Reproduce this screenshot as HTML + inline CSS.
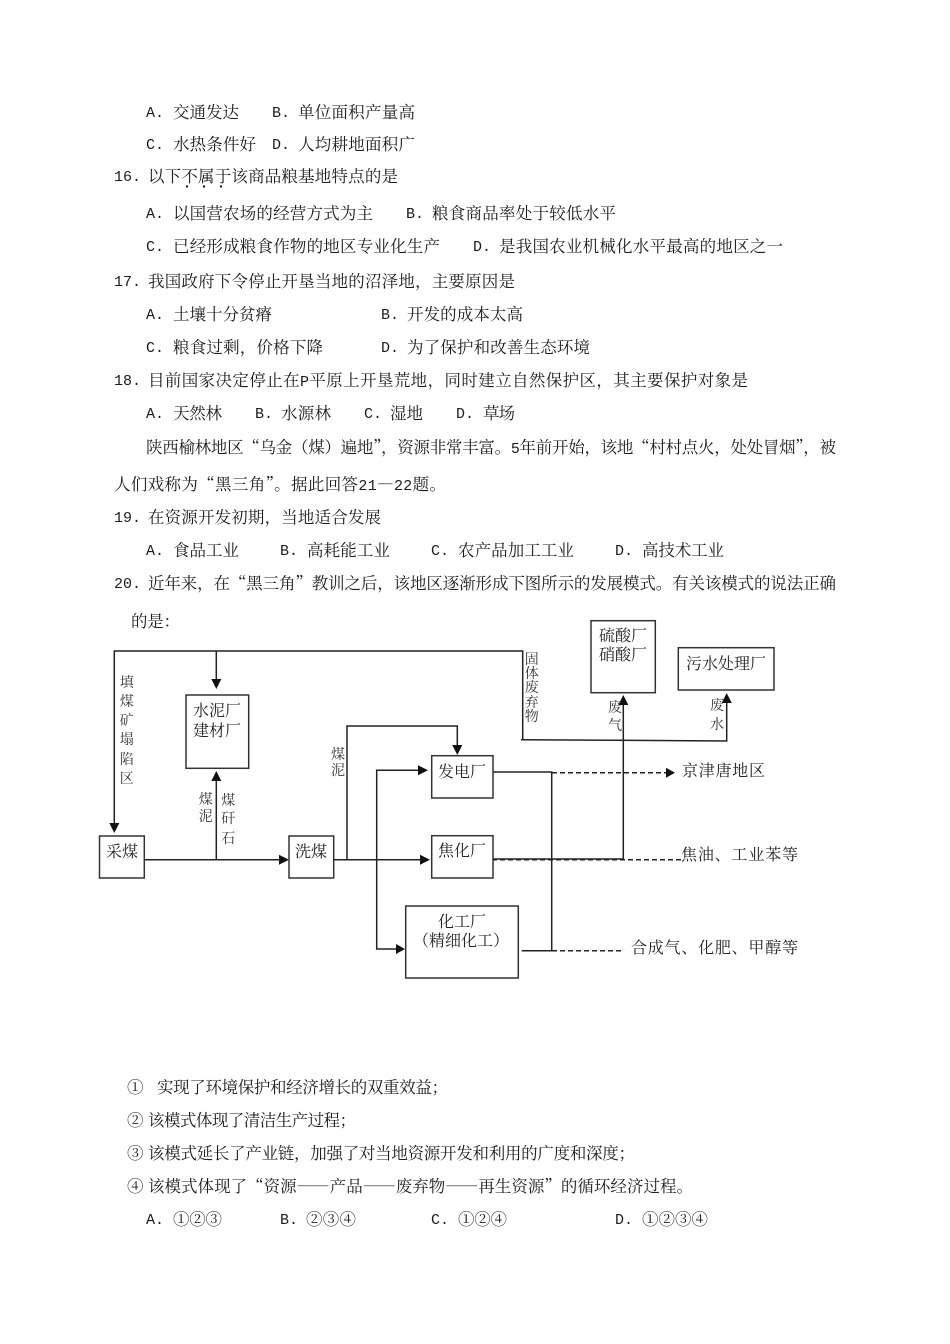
<!DOCTYPE html>
<html lang="zh-CN"><head><meta charset="utf-8"><style>
html,body{margin:0;padding:0;background:#fff;width:950px;height:1344px;overflow:hidden}
svg{display:block}
text{font-family:"Noto Serif CJK SC","Liberation Serif",serif;font-size:16.5px;fill:#1c1c1c}
.m{font-family:"Liberation Mono","Noto Serif CJK SC",monospace;font-size:15px}
.d text{font-size:16px;text-anchor:middle;fill:#222}
.d text.s{font-size:14px;fill:#333}
.d text.l{text-anchor:start}
.k{fill:none;stroke:#222;stroke-width:1.5}
.b{fill:#fff;stroke:#333;stroke-width:1.5}
.t{stroke-dasharray:5 3}
</style></head><body>
<svg width="950" height="1344" viewBox="0 0 950 1344" xmlns="http://www.w3.org/2000/svg">
<g>
<text class="m" x="146" y="117">A.</text><text x="173" y="118" textLength="66">交通发达</text><text class="m" x="272" y="117">B.</text><text x="298" y="118" textLength="117">单位面积产量高</text>
<text class="m" x="146" y="149">C.</text><text x="173" y="150" textLength="83">水热条件好</text><text class="m" x="272" y="149">D.</text><text x="298" y="150" textLength="117">人均耕地面积广</text>
<text class="m" x="114" y="181">16.</text><text x="148" y="182" textLength="250">以下不属于该商品粮基地特点的是</text>
<text class="m" x="146" y="218">A.</text><text x="173" y="219" textLength="200">以国营农场的经营方式为主</text><text class="m" x="406" y="218">B.</text><text x="432" y="219" textLength="184">粮食商品率处于较低水平</text>
<text class="m" x="146" y="251">C.</text><text x="173" y="252" textLength="267">已经形成粮食作物的地区专业化生产</text><text class="m" x="473" y="251">D.</text><text x="499" y="252" textLength="284">是我国农业机械化水平最高的地区之一</text>
<text class="m" x="114" y="286">17.</text><text x="148" y="287" textLength="367">我国政府下令停止开垦当地的沼泽地，主要原因是</text>
<text class="m" x="146" y="319">A.</text><text x="173" y="320" textLength="99">土壤十分贫瘠</text><text class="m" x="381" y="319">B.</text><text x="407" y="320" textLength="116">开发的成本太高</text>
<text class="m" x="146" y="352">C.</text><text x="173" y="353" textLength="150">粮食过剩，价格下降</text><text class="m" x="381" y="352">D.</text><text x="407" y="353" textLength="183">为了保护和改善生态环境</text>
<text class="m" x="114" y="385">18.</text><text x="148" y="386" textLength="600">目前国家决定停止在<tspan class="m">P</tspan>平原上开垦荒地，同时建立自然保护区，其主要保护对象是</text>
<text class="m" x="146" y="418">A.</text><text x="173" y="419" textLength="49">天然林</text><text class="m" x="255" y="418">B.</text><text x="281" y="419" textLength="50">水源林</text><text class="m" x="364" y="418">C.</text><text x="390" y="419" textLength="33">湿地</text><text class="m" x="456" y="418">D.</text><text x="483" y="419" textLength="32">草场</text>
<text x="146" y="453" textLength="690">陕西榆林地区“乌金（煤）遍地”，资源非常丰富。<tspan class="m">5</tspan>年前开始，该地“村村点火，处处冒烟”，被</text>
<text x="114" y="490" textLength="332">人们戏称为“黑三角”。据此回答<tspan class="m">21</tspan>—<tspan class="m">22</tspan>题。</text>
<text class="m" x="114" y="522">19.</text><text x="148" y="523" textLength="233">在资源开发初期，当地适合发展</text>
<text class="m" x="146" y="555">A.</text><text x="173" y="556" textLength="66">食品工业</text><text class="m" x="280" y="555">B.</text><text x="307" y="556" textLength="83">高耗能工业</text><text class="m" x="431" y="555">C.</text><text x="458" y="556" textLength="116">农产品加工工业</text><text class="m" x="615" y="555">D.</text><text x="642" y="556" textLength="82">高技术工业</text>
<text class="m" x="114" y="588">20.</text><text x="148" y="589" textLength="688">近年来，在“黑三角”教训之后，该地区逐渐形成下图所示的发展模式。有关该模式的说法正确</text>
<text x="131" y="627" textLength="49">的是：</text>
<text x="127" y="1093">①</text><text x="157" y="1093" textLength="291">实现了环境保护和经济增长的双重效益；</text>
<text x="127" y="1126">②</text><text x="148" y="1126" textLength="208">该模式体现了清洁生产过程；</text>
<text x="127" y="1159">③</text><text x="148" y="1159" textLength="487">该模式延长了产业链，加强了对当地资源开发和利用的广度和深度；</text>
<text x="127" y="1192">④</text><text x="148" y="1192" textLength="545">该模式体现了“资源——产品——废弃物——再生资源”的循环经济过程。</text>
<text class="m" x="146" y="1224">A.</text><text x="173" y="1225" textLength="49">①②③</text><text class="m" x="280" y="1224">B.</text><text x="306" y="1225" textLength="50">②③④</text><text class="m" x="431" y="1224">C.</text><text x="458" y="1225" textLength="49">①②④</text><text class="m" x="615" y="1224">D.</text><text x="642" y="1225" textLength="66">①②③④</text>
</g>
<circle cx="187" cy="186.5" r="1.2" fill="#222"/><circle cx="204" cy="186.5" r="1.2" fill="#222"/><circle cx="221" cy="186.5" r="1.2" fill="#222"/>

<g class="d">
<path class="k" d="M114.3 825V651H522.7V740"/>
<path class="k" d="M216.3 651V680"/>
<path class="k" d="M216.3 860V780"/>
<path class="k" d="M144 859.7H280"/>
<path class="k" d="M334 859.7H421"/>
<path class="k" d="M347 860V726H457.3V746"/>
<path class="k" d="M419 770.3H376.7V949H397"/>
<path class="k" d="M521 739.7L726.7 741V702"/>
<path class="k" d="M493 772H551.7V950.7H521.7"/>
<path class="k t" d="M552 772.7H666"/>
<path class="k" d="M491.7 859H623.3V704"/>
<path class="k t" d="M492 859.8H681"/>
<path class="k t" d="M552 950.7H624"/>
<g fill="#111">
<path d="M109.3 823H119.3L114.3 833Z"/>
<path d="M211.3 679H221.3L216.3 689Z"/>
<path d="M211.3 781H221.3L216.3 771Z"/>
<path d="M279 854.7V864.7L289 859.7Z"/>
<path d="M420 854.7V864.7L430 859.7Z"/>
<path d="M452.3 745H462.3L457.3 755Z"/>
<path d="M418 765.3V775.3L428 770.3Z"/>
<path d="M396 944V954L405 949Z"/>
<path d="M618.3 705H628.3L623.3 695Z"/>
<path d="M721.7 703H731.7L726.7 693Z"/>
<path d="M666 767.7V777.7L675 772.7Z"/>
</g>
<rect class="b" x="186" y="695" width="62.7" height="73.3"/>
<rect class="b" x="99.5" y="836" width="44.8" height="42"/>
<rect class="b" x="289" y="836" width="44.7" height="42"/>
<rect class="b" x="431.7" y="755.7" width="61.3" height="42.3"/>
<rect class="b" x="431.7" y="835.7" width="61.3" height="42.3"/>
<rect class="b" x="405.7" y="906" width="112.6" height="72"/>
<rect class="b" x="591" y="620.7" width="64.3" height="72"/>
<rect class="b" x="678.3" y="647.7" width="95.7" height="42.3"/>

<text x="217" y="716">水泥厂</text><text x="217" y="736">建材厂</text>
<text x="122" y="857">采煤</text><text x="311" y="857">洗煤</text>
<text x="462" y="777">发电厂</text><text x="462" y="856">焦化厂</text>
<text x="462" y="927">化工厂</text><text x="461" y="946">（精细化工）</text>
<text x="623" y="641">硫酸厂</text><text x="623" y="660">硝酸厂</text>
<text x="726" y="669">污水处理厂</text>

<text class="s" x="126.7" y="687">填</text><text class="s" x="126.7" y="706">煤</text><text class="s" x="126.7" y="725">矿</text><text class="s" x="126.7" y="744">塌</text><text class="s" x="126.7" y="764">陷</text><text class="s" x="126.7" y="783">区</text>
<text class="s" x="205.7" y="804">煤</text><text class="s" x="205.7" y="821">泥</text>
<text class="s" x="228.3" y="805">煤</text><text class="s" x="228.3" y="823">矸</text><text class="s" x="228.3" y="843">石</text>
<text class="s" x="338" y="759">煤</text><text class="s" x="338" y="775">泥</text>
<text class="s" x="531.7" y="664">固</text><text class="s" x="531.7" y="678">体</text><text class="s" x="531.7" y="692">废</text><text class="s" x="531.7" y="707">弃</text><text class="s" x="531.7" y="721">物</text>
<text class="s" x="615" y="712">废</text><text class="s" x="615" y="730">气</text>
<text class="s" x="717" y="710">废</text><text class="s" x="717" y="729">水</text>
<text class="l" x="682" y="776" textLength="83">京津唐地区</text>
<text class="l" x="681" y="860" textLength="117">焦油、工业苯等</text>
<text class="l" x="631" y="953" textLength="167">合成气、化肥、甲醇等</text>
</g>
</svg>
</body></html>
